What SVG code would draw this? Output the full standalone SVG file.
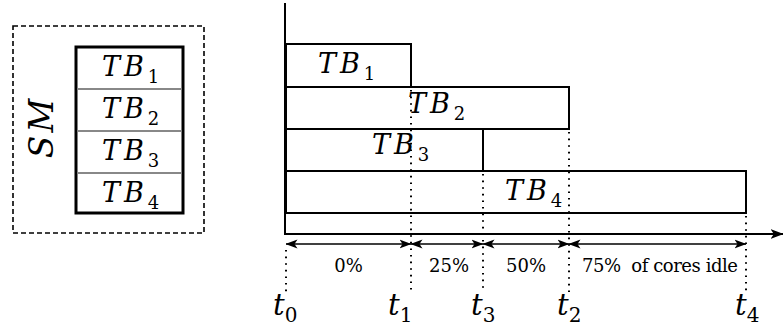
<svg xmlns="http://www.w3.org/2000/svg" width="783" height="329" viewBox="0 0 783 329">
<style>
text{font-family:'DejaVu Serif',serif;fill:#000}
.m{font-style:italic}
.tb{font-size:27px;letter-spacing:4px}
.sub{font-size:18px;font-style:normal;letter-spacing:0}
.tl{font-size:29px}
.ts{font-size:20px;font-style:normal}
.pc{font-size:18px}
.bar{fill:#fff;stroke:#000;stroke-width:2}
.dot{stroke:#000;stroke-width:2;stroke-dasharray:1.6 5;fill:none}
.dbl{stroke:#000;stroke-width:1.6;fill:none;marker-start:url(#ah);marker-end:url(#ah)}
</style>
<defs>
<marker id="ah" viewBox="0 0 12 10" refX="11.5" refY="5" markerWidth="12" markerHeight="10" markerUnits="userSpaceOnUse" orient="auto-start-reverse">
<path d="M0,0.5 L12,5 L0,9.5 L3,5 Z" fill="#000"/>
</marker>
<marker id="ax" viewBox="0 0 12 10" refX="11.5" refY="5" markerWidth="13" markerHeight="11" markerUnits="userSpaceOnUse" orient="auto">
<path d="M0,0.5 L12,5 L0,9.5 L3,5 Z" fill="#000"/>
</marker>
</defs>
<g id="sm">
<rect x="13" y="26" width="191" height="207" fill="none" stroke="#000" stroke-width="1.6" stroke-dasharray="5 3"/>
<text class="m" font-size="33" letter-spacing="3" transform="translate(53,127) rotate(-90)" text-anchor="middle">SM</text>
<rect x="76" y="47" width="107" height="166" fill="none" stroke="#000" stroke-width="3"/>
<g stroke="#888" stroke-width="2">
<line x1="77" y1="89" x2="182" y2="89"/>
<line x1="77" y1="131" x2="182" y2="131"/>
<line x1="77" y1="173" x2="182" y2="173"/>
</g>
<text class="m tb" x="102" y="76">TB<tspan class="sub" dy="7">1</tspan></text>
<text class="m tb" x="102" y="118">TB<tspan class="sub" dy="7">2</tspan></text>
<text class="m tb" x="102" y="160">TB<tspan class="sub" dy="7">3</tspan></text>
<text class="m tb" x="102" y="202">TB<tspan class="sub" dy="7">4</tspan></text>
</g>
<g id="tb1"><rect class="bar" x="286" y="44" width="125" height="43"/></g>
<g id="tb2"><rect class="bar" x="286" y="87" width="283" height="42"/></g>
<g id="tb3"><rect class="bar" x="286" y="129" width="197" height="42"/></g>
<g id="tb4"><rect class="bar" x="286" y="171" width="460" height="42"/></g>
<g id="connectors">
<line x1="285" y1="3" x2="285" y2="235" stroke="#000" stroke-width="2"/>
<line x1="284" y1="234" x2="783" y2="234" stroke="#000" stroke-width="2" marker-end="url(#ax)"/>
<line class="dot" x1="286" y1="250" x2="286" y2="292"/>
<line class="dot" x1="411" y1="90" x2="411" y2="292"/>
<line class="dot" x1="483" y1="174" x2="483" y2="292"/>
<line class="dot" x1="569" y1="132" x2="569" y2="292"/>
<line class="dot" x1="746" y1="216" x2="746" y2="292"/>
<line class="dbl" x1="286" y1="244" x2="411" y2="244"/>
<line class="dbl" x1="411" y1="244" x2="483" y2="244"/>
<line class="dbl" x1="483" y1="244" x2="569" y2="244"/>
<line class="dbl" x1="569" y1="244" x2="746" y2="244"/>
</g>
<g id="labels">
<text class="m tb" x="318" y="73">TB<tspan class="sub" dy="7">1</tspan></text>
<text class="m tb" x="408" y="113">TB<tspan class="sub" dy="7">2</tspan></text>
<text class="m tb" x="372" y="154">TB<tspan class="sub" dy="7">3</tspan></text>
<text class="m tb" x="505" y="200">TB<tspan class="sub" dy="7">4</tspan></text>
<text class="pc" x="348.5" y="272" text-anchor="middle">0%</text>
<text class="pc" x="449" y="272" text-anchor="middle">25%</text>
<text class="pc" x="526" y="272" text-anchor="middle">50%</text>
<text class="pc" x="582" y="272" textLength="156" lengthAdjust="spacing" xml:space="preserve">75%  of cores idle</text>
<text class="m tl" x="273" y="315">t<tspan class="ts" dy="7">0</tspan></text>
<text class="m tl" x="388" y="315">t<tspan class="ts" dy="7">1</tspan></text>
<text class="m tl" x="471" y="315">t<tspan class="ts" dy="7">3</tspan></text>
<text class="m tl" x="557" y="315">t<tspan class="ts" dy="7">2</tspan></text>
<text class="m tl" x="735" y="315">t<tspan class="ts" dy="7">4</tspan></text>
</g>
</svg>
